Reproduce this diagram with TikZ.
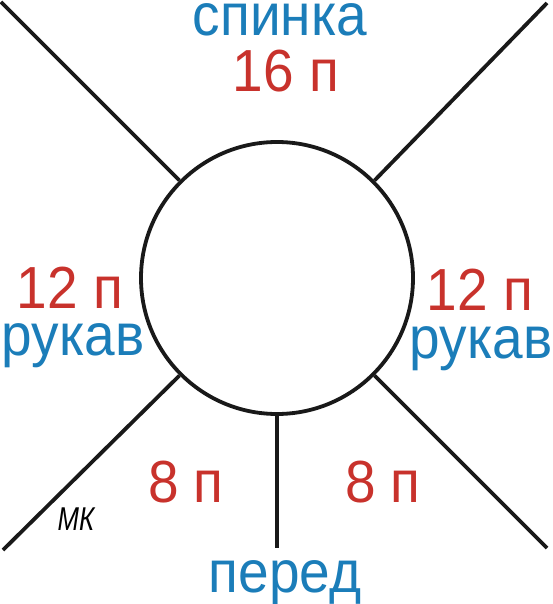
\documentclass[tikz,border=0pt]{standalone}
\usepackage{fontspec}
\setmainfont{Liberation Sans}
\usepackage{xcolor}
\definecolor{partBlue}{HTML}{1B7DB9}
\definecolor{countRed}{HTML}{C8322C}
\tikzset{
    PartText/.style={font=\fontsize{55}{60}\selectfont, text=partBlue, anchor=base, inner sep=0pt, yscale=1.08, transform shape},
    CountText/.style={font=\fontsize{55}{60}\selectfont, text=countRed, anchor=base, inner sep=0pt, yscale=1.08, transform shape},
    SignText/.style={font=\fontsize{33}{36}\selectfont\itshape, anchor=base, inner sep=0pt, xscale=0.78, transform shape},
    RaglanLine/.style={line width=3.8pt, draw=black!90}
}

\begin{document}
\begin{tikzpicture}[x=1pt, y=1pt]
    % page size = reference in px
    \useasboundingbox (0,0) rectangle (553,-604);

    % --- neck circle ---
    \node[RaglanLine, circle, minimum size=272pt, inner sep=0pt] (neck) at (277,-278) {};

    % free ends of the raglan lines
    \coordinate (tlEnd) at (1,-2);
    \coordinate (trEnd) at (547,-3);
    \coordinate (blEnd) at (3,-550);
    \coordinate (brEnd) at (547,-548);
    \coordinate (frontEnd) at (277,-548);

    \draw[RaglanLine] (neck.north west) -- (tlEnd);
    \draw[RaglanLine] (neck.north east) -- (trEnd);
    \draw[RaglanLine] (neck.south west) -- (blEnd);
    \draw[RaglanLine] (neck.south east) -- (brEnd);
    \draw[RaglanLine] (neck.south) -- (frontEnd);

    % --- labels: part names and stitch counts ---
    \node[PartText] (back) at (280,-36) {спинка};
    \node[CountText] (backCount) at (286,-92) {16 п};

    \node[CountText] (leftCount) at (70,-308) {12 п};
    \node[PartText] (leftSleeve) at (73,-355) {рукав};

    \node[CountText] (rightCount) at (480,-310) {12 п};
    \node[PartText] (rightSleeve) at (481,-358) {рукав};

    \node[CountText] (frontLeftCount) at (186,-502) {8 п};
    \node[CountText] (frontRightCount) at (383,-502) {8 п};
    \node[PartText] (front) at (285,-592) {перед};

    \node[SignText] (mk) at (76,-530) {МК};
\end{tikzpicture}
\end{document}
